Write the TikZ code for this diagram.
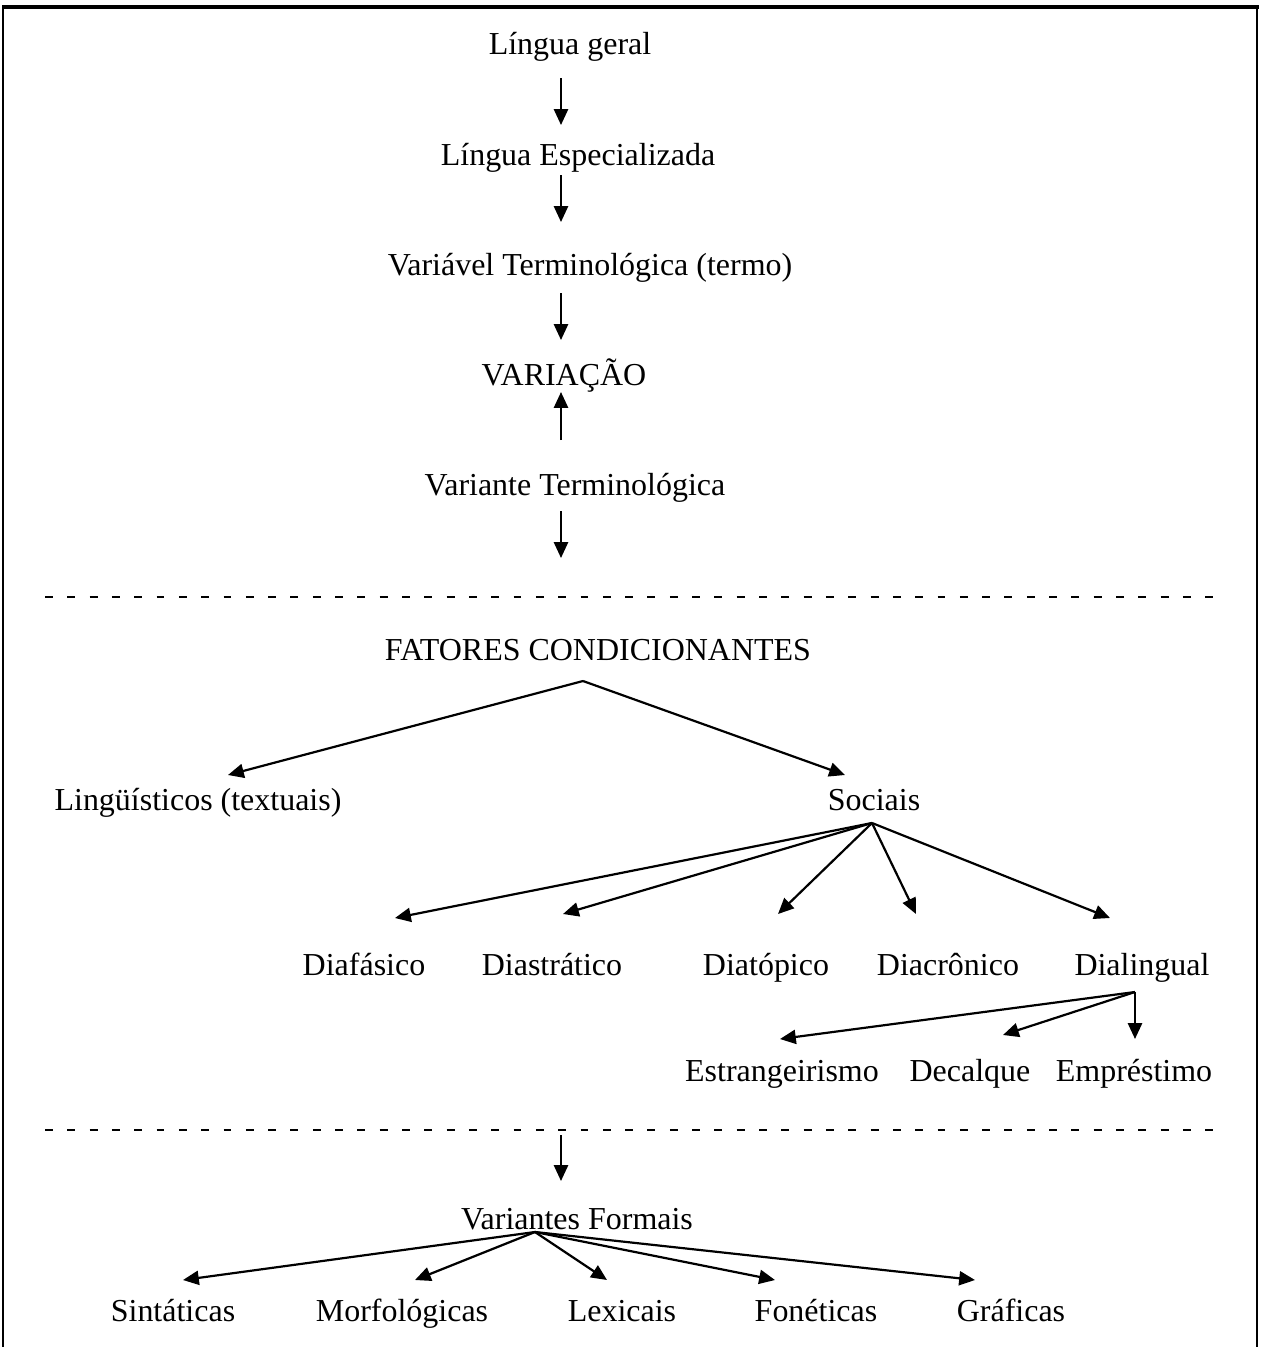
\documentclass[tikz,border=0pt]{standalone}
\usepackage{fontspec}
\setmainfont{Liberation Serif}
\usetikzlibrary{arrows.meta}
\begin{document}
\begin{tikzpicture}[x=0.02cm,y=-0.02cm,
  lbl/.style={anchor=base,inner sep=0pt,font=\fontsize{18.2}{20}\selectfont},
  link/.style={line width=1.25pt,-{Triangle[length=9pt,width=8pt]}},
  sep/.style={line width=1.1pt,dash pattern=on 4.5pt off 8.2pt}]
\useasboundingbox (0,0) rectangle (1261,1347);
% open frame
\draw[line width=2.3pt] (2,7) -- (1259,7);
\draw[line width=1.1pt] (3,7) -- (3,1347) (1257,7) -- (1257,1347);

% main chain
\node[lbl] (lg)  at (570,54)  {Língua geral};
\node[lbl] (le)  at (578,165) {Língua Especializada};
\node[lbl] (vt)  at (590,275) {Variável Terminológica (termo)};
\node[lbl] (var) at (564,385) {VARIAÇÃO};
\node[lbl] (vte) at (575,495) {Variante Terminológica};

\coordinate (a1s) at (561,78);   \coordinate (a1e) at (561,125);
\coordinate (a2s) at (561,175);  \coordinate (a2e) at (561,222);
\coordinate (a3s) at (561,293);  \coordinate (a3e) at (561,340);
\coordinate (a4s) at (561,440);  \coordinate (a4e) at (561,392);
\coordinate (a5s) at (561,511);  \coordinate (a5e) at (561,558);
\draw[link] (a1s) -- (a1e);
\draw[link] (a2s) -- (a2e);
\draw[link] (a3s) -- (a3e);
\draw[link] (a4s) -- (a4e);
\draw[link] (a5s) -- (a5e);

% separators
\coordinate (s1a) at (45,597);  \coordinate (s1b) at (1215,597);
\coordinate (s2a) at (45,1130); \coordinate (s2b) at (1215,1130);
\draw[sep] (s1a) -- (s1b);
\draw[sep] (s2a) -- (s2b);

% conditioning factors
\node[lbl] (fc)  at (598,660) {FATORES CONDICIONANTES};
\node[lbl] (lin) at (198,810) {Lingüísticos (textuais)};
\node[lbl] (soc) at (874,810) {Sociais};
\coordinate (fch) at (583,681);
\coordinate (linT) at (228,775);
\coordinate (socT) at (845,775);
\draw[link] (fch) -- (linT);
\draw[link] (fch) -- (socT);

\node[lbl] (dfa) at (364,975)  {Diafásico};
\node[lbl] (dst) at (552,975)  {Diastrático};
\node[lbl] (dtp) at (766,975)  {Diatópico};
\node[lbl] (dcr) at (948,975)  {Diacrônico};
\node[lbl] (dli) at (1142,975) {Dialingual};
\coordinate (soch) at (872,823);
\coordinate (dfaT) at (395,918);
\coordinate (dstT) at (563,914);
\coordinate (dtpT) at (778,914);
\coordinate (dcrT) at (916,914);
\coordinate (dliT) at (1110,918);
\foreach \t in {dfaT,dstT,dtpT,dcrT,dliT} \draw[link] (soch) -- (\t);

\node[lbl] (est) at (782,1081)  {Estrangeirismo};
\node[lbl] (dec) at (970,1081)  {Decalque};
\node[lbl] (emp) at (1134,1081) {Empréstimo};
\coordinate (dlih) at (1135,992);
\coordinate (estT) at (780,1039);
\coordinate (decT) at (1003,1035);
\coordinate (empT) at (1135,1039);
\foreach \t in {estT,decT,empT} \draw[link] (dlih) -- (\t);

% formal variants
\coordinate (a6s) at (561,1135); \coordinate (a6e) at (561,1181);
\draw[link] (a6s) -- (a6e);
\node[lbl] (vf) at (577,1229) {Variantes Formais};
\node[lbl] (sin) at (173,1321)  {Sintáticas};
\node[lbl] (mor) at (402,1321)  {Morfológicas};
\node[lbl] (lex) at (622,1321)  {Lexicais};
\node[lbl] (fon) at (816,1321)  {Fonéticas};
\node[lbl] (gra) at (1011,1321) {Gráficas};
\coordinate (vfh) at (535,1232);
\coordinate (sinT) at (183,1280);
\coordinate (morT) at (415,1280);
\coordinate (lexT) at (607,1280);
\coordinate (fonT) at (775,1280);
\coordinate (graT) at (975,1280);
\foreach \t in {sinT,morT,lexT,fonT,graT} \draw[link] (vfh) -- (\t);
\end{tikzpicture}
\end{document}
